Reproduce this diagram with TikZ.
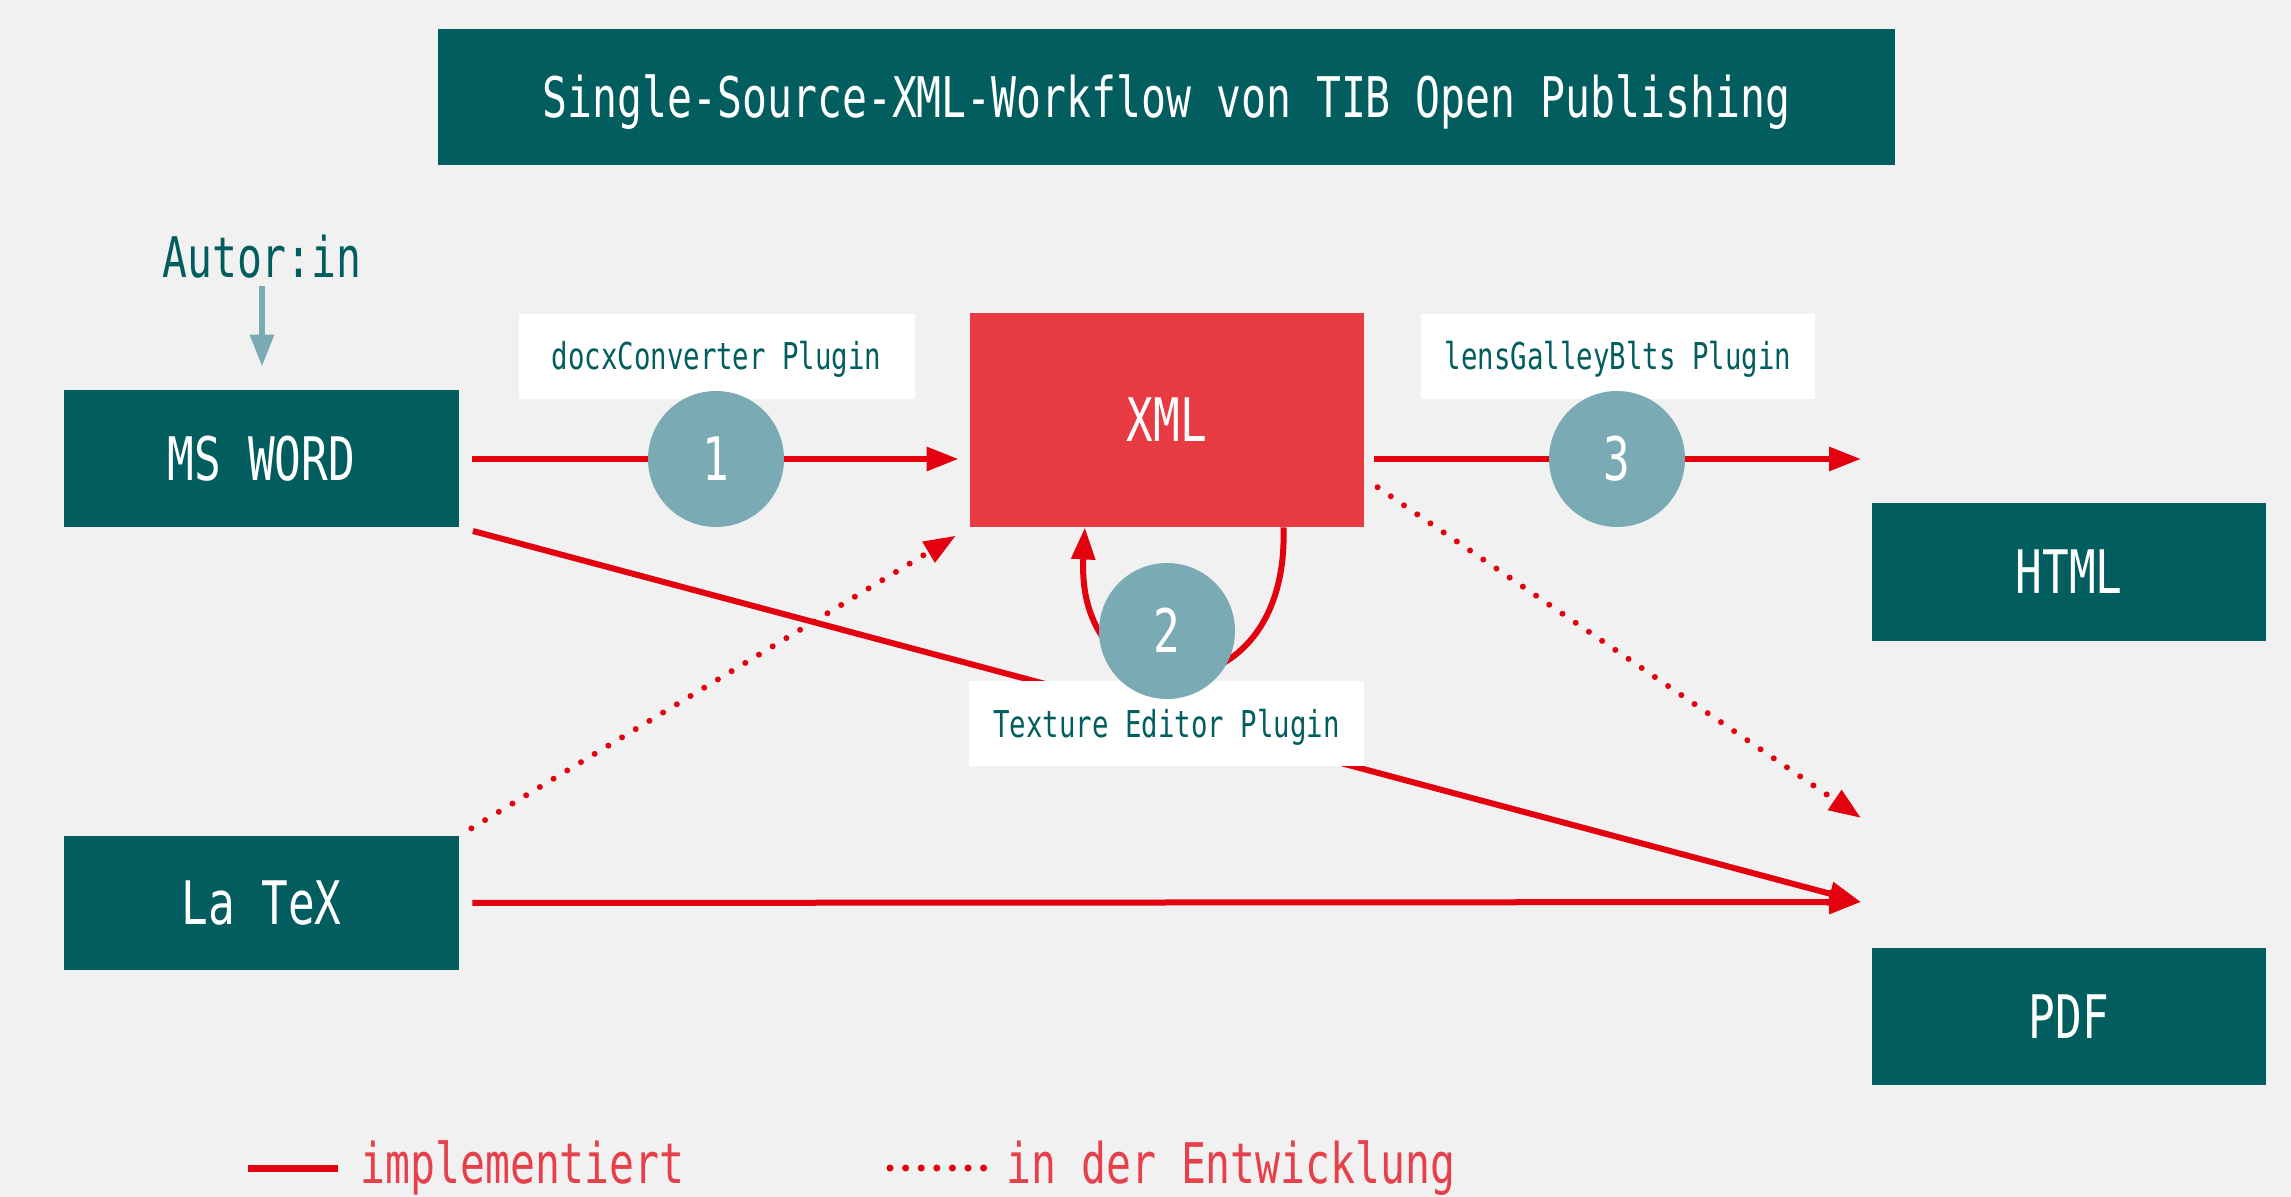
\documentclass[tikz,border=0pt]{standalone}
\usepackage{fontspec}
\usetikzlibrary{arrows.meta,calc}
\newfontfamily\cf{DejaVu Sans Mono}[FakeStretch=0.74]
\definecolor{tibteal}{HTML}{025D5F}
\definecolor{xmlred}{HTML}{E83A43}
\definecolor{linered}{HTML}{E3000F}
\definecolor{circblue}{HTML}{7AABB5}
\definecolor{bgcol}{HTML}{F1F1F1}
\definecolor{legred}{HTML}{E6404A}
\begin{document}
\begin{tikzpicture}[x=0.5pt,y=-0.5pt,
  box/.style={fill=tibteal, text=white, minimum width=197.5pt, minimum height=68.5pt, inner sep=0pt,
    font=\cf\fontsize{30}{36}\selectfont, text height=21.9pt, text depth=0pt},
  lab/.style={fill=white, text=tibteal, minimum width=198pt, minimum height=42.5pt, inner sep=0pt,
    font=\cf\fontsize{18.5}{22}\selectfont, text height=13.5pt, text depth=0pt},
  num/.style={circle, fill=circblue, text=white, minimum size=68pt, inner sep=0pt,
    font=\cf\fontsize{30}{36}\selectfont, text height=21.9pt, text depth=0pt},
  impl/.style={draw=linered, line width=3pt, -{Triangle[length=16pt,width=11.5pt]}},
  dev/.style={impl, dash pattern=on 0pt off 8pt, line cap=round},
  legtext/.style={text=legred, inner sep=0pt, anchor=base west, font=\cf\fontsize{28}{32}\selectfont}
]
% background / bounding box
\fill[bgcol] (0,0) rectangle (2291,1197);
\useasboundingbox (0,0) rectangle (2291,1197);

% title
\node[fill=tibteal, text=white, minimum width=728.5pt, minimum height=68pt, inner sep=0pt,
  font=\cf\fontsize{28}{32}\selectfont, text height=20.4pt, text depth=0pt] (title) at (1166.5,97)
  {Single-Source-XML-Workflow von TIB Open Publishing};

% main boxes
\node[box] (msword) at (261.5,458.5) {MS WORD};
\node[box, minimum height=67pt] (latex) at (261.5,903) {La TeX};
\node[box, fill=xmlred, minimum width=197pt, minimum height=107pt] (xml) at (1167,420) {XML};
\node[box, minimum width=197pt] (html) at (2069,572) {HTML};
\node[box, minimum width=197pt] (pdf) at (2069,1016.5) {PDF};

% author
\node[text=tibteal, inner sep=0pt, anchor=base, text depth=0pt, font=\cf\fontsize{28}{32}\selectfont] (autor) at (262,278) {Autor:in};
\draw[draw=circblue, line width=3pt, -{Triangle[length=16pt,width=11.5pt]}, shorten <=4pt, shorten >=11.5pt]
  (autor.south) -- (autor.south |- msword.north);

% free ends
\coordinate (htmlin) at (1861,459);
\coordinate (pdfin) at (1861,902);
\coordinate (pdfdot) at (1861,818);
\coordinate (xmlout) at ($(xml.south east)!0.229!(xml.north east)$);
\coordinate (loopA) at ($(xml.south west)!0.795!(xml.south east)$);
\coordinate (loopB) at ($(xml.south west)!0.292!(xml.south east)$);

% connectors
\draw[impl, shorten <=6.5pt, shorten >=5.5pt] (msword.east |- 0,459) -- (xml.west |- 0,459);
\draw[impl, shorten <=5pt] (xml.east |- 0,459) -- (htmlin);
\draw[impl, shorten <=7pt] (msword.south east) -- (pdfin);
\draw[impl, shorten <=6.5pt] (latex.east) -- (pdfin);
\draw[dev, shorten <=7pt, shorten >=8pt] (latex.north east) -- (xml.south west);
\draw[dev, shorten <=8pt] (xmlout) -- (pdfdot);
\draw[impl] (loopA) .. controls (1290,720) and (1075,720) .. (loopB);

% plugin labels
\node[lab] (docx) at (716.5,356.5) {docxConverter Plugin};
\node[lab, minimum width=197pt] (lens) at (1618,356.5) {lensGalleyBlts Plugin};
\node[lab, minimum width=197.5pt] (texture) at (1166.5,723.5) {Texture Editor Plugin};

% numbered circles
\node[num] (c1) at (716,459) {1};
\node[num] (c2) at (1167,631) {2};
\node[num] (c3) at (1617,459) {3};

% legend
\coordinate (la) at (248,1168);
\coordinate (lb) at (338,1168);
\coordinate (lc) at (890,1168);
\coordinate (ld) at (986,1168);
\draw[linered, line width=3.5pt] (la) -- (lb);
\draw[linered, line width=3.5pt, dash pattern=on 0pt off 7.8pt, line cap=round] (lc) -- (ld);
\node[legtext] (limpl) at (360,1183) {implementiert};
\node[legtext] (ldev) at (1006,1183) {in der Entwicklung};
\end{tikzpicture}
\end{document}
